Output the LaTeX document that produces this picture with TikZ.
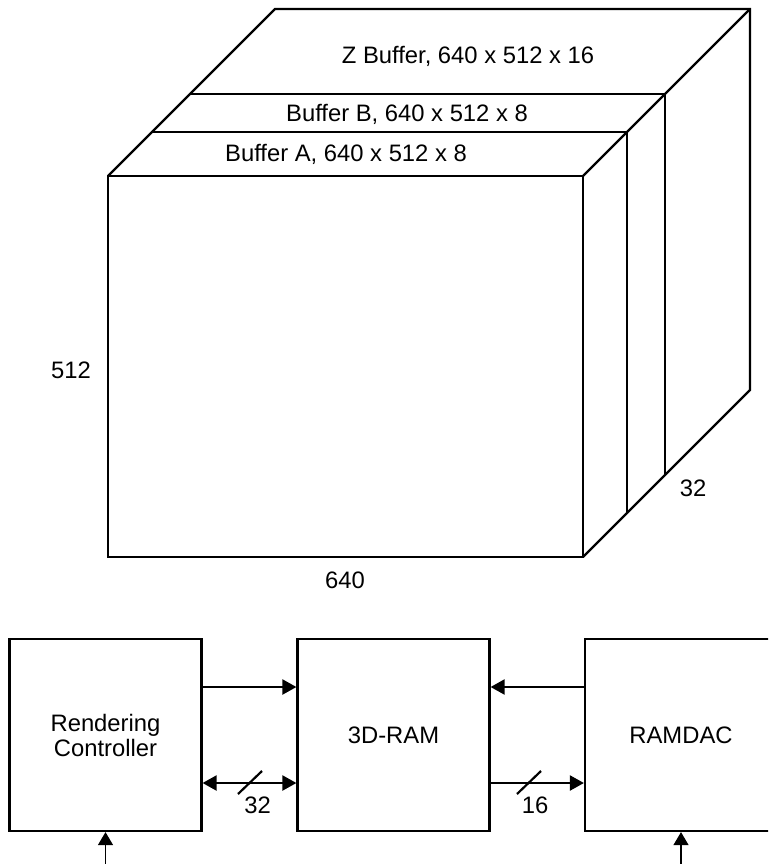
\documentclass[tikz,border=0pt]{standalone}
\usepackage{fontspec}
\setmainfont{Liberation Sans}
\usetikzlibrary{arrows.meta}
\begin{document}
\begin{tikzpicture}[x=1pt,y=-1pt,
  txt/.style={font=\fontsize{23.8}{25}\selectfont, inner sep=0pt},
  edge/.style={line width=2.2pt},
  blk/.style={draw, line width=2.2pt, minimum width=192pt, minimum height=192pt,
              align=center, inner sep=0pt, font=\fontsize{23.8}{25}\selectfont},
  tip/.style={-{Triangle[length=14pt,width=15pt]}},
  both/.style={{Triangle[length=14pt,width=15pt]}-{Triangle[length=14pt,width=15pt]}},
  inarrow/.style={line width=1.2pt, -{Triangle[length=13pt,width=15pt]}}]
\useasboundingbox (0,0) rectangle (768,864);
\fill[white] (0,0) rectangle (768,864);
\clip (0,0) rectangle (768,864);

% --- frame buffer cube ---
\draw[edge] (108,176) rectangle (583,557);
\draw[edge] (108,176) -- (275,9) -- (750,9) -- (750,390) -- (583,557);
\draw[edge] (583,176) -- (750,9);
\draw[edge] (152,132) -- (627,132) -- (627,513);
\draw[edge] (190,94) -- (665,94) -- (665,475);

\node[txt, anchor=base] (zlbl) at (468,63.5) {Z Buffer, 640 x 512 x 16};
\node[txt, anchor=base] (blbl) at (407,121.5) {Buffer B, 640 x 512 x 8};
\node[txt, anchor=base] (albl) at (346,161.5) {Buffer A, 640 x 512 x 8};
\node[txt, anchor=base] (hlbl) at (71,378.5) {512};
\node[txt, anchor=base] (wlbl) at (345,588.5) {640};
\node[txt, anchor=base] (dlbl) at (693,496.5) {32};

% --- block diagram ---
\node[blk] (rc)  at (105.5,735) {Rendering\\Controller};
\node[blk] (ram) at (393.5,735) {3D-RAM};
\node[blk] (dac) at (681,735) {RAMDAC};

\draw[edge, tip]  ([yshift=48pt]rc.east)  -- ([yshift=48pt]ram.west);
\draw[edge, both] ([yshift=-48pt]rc.east) -- ([yshift=-48pt]ram.west);
\draw[edge, tip]  ([yshift=48pt]dac.west) -- ([yshift=48pt]ram.east);
\draw[edge, tip]  ([yshift=-48pt]ram.east) -- ([yshift=-48pt]dac.west);

\draw[edge] (238,794) -- (262,771);
\draw[edge] (517,794) -- (541,771);
\node[txt, anchor=base] (w32) at (257.5,813) {32};
\node[txt, anchor=base] (w16) at (535,813) {16};

\coordinate (inrc) at (105.5,866);
\coordinate (indac) at (681,866);
\draw[inarrow] (inrc) -- (rc.south);
\draw[inarrow] (indac) -- (dac.south);
\end{tikzpicture}
\end{document}
